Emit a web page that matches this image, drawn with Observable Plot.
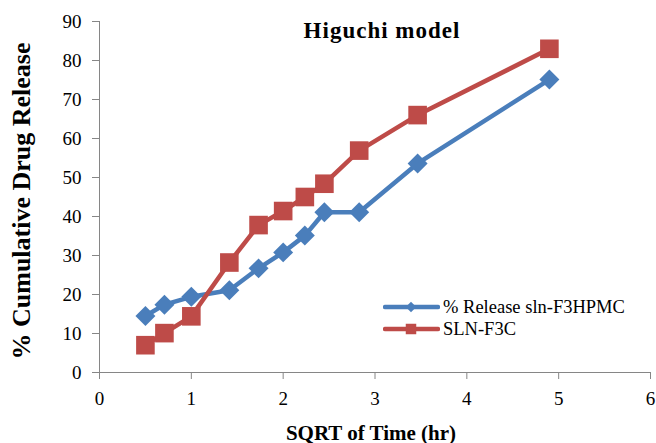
<!DOCTYPE html>
<html>
<head>
<meta charset="utf-8">
<script src="https://cdn.jsdelivr.net/npm/d3@7"></script>
<script src="https://cdn.jsdelivr.net/npm/@observablehq/plot@0.6"></script>
<style>
  html, body { margin: 0; padding: 0; background: #fff; }
  #wrap { position: relative; width: 656px; height: 443px; font-family: "Liberation Serif", "Times New Roman", serif; color: #000; overflow: hidden; }
  #wrap > svg { position: absolute; left: 0; top: 0; }
  .title { position: absolute; left: 382px; top: 30px; transform: translate(-50%, -50%); font-weight: bold; font-size: 23px; letter-spacing: 1px; line-height: 1; white-space: nowrap; }
  .xlabel { position: absolute; left: 371px; top: 433px; transform: translate(-50%, -50%); font-weight: bold; font-size: 21px; line-height: 1; white-space: nowrap; }
  .ylabel { position: absolute; left: 22px; top: 201px; transform: translate(-50%, -50%) rotate(-90deg); font-weight: bold; font-size: 26px; line-height: 1; white-space: nowrap; }
  .legend { position: absolute; left: 383px; top: 296px; font-size: 18.5px; line-height: 22px; }
  .legend .row { display: flex; align-items: center; height: 22px; white-space: nowrap; }
  #wrap .legend svg { position: static; display: block; margin-right: 3px; }
</style>
</head>
<body>
<div id="wrap"></div>
<script>
// ---- data ----
const sqrtTime = [0.5, 0.707, 1, 1.414, 1.732, 2, 2.236, 2.449, 2.828, 3.464, 4.899];
const releaseHPMC = [14.5, 17.4, 19.4, 21.1, 26.7, 30.8, 35.1, 41.1, 41.1, 53.6, 75.1];
const releaseF3C = [7.0, 10.1, 14.4, 28.2, 37.8, 41.4, 45.0, 48.4, 56.9, 66.0, 83.0];
const seriesNames = ["% Release sln-F3HPMC", "SLN-F3C"];
const xTicks = [0, 1, 2, 3, 4, 5, 6];
const yTicks = [0, 10, 20, 30, 40, 50, 60, 70, 80, 90];
const titleText = "Higuchi model";
const xLabelText = "SQRT of Time (hr)";
const yLabelText = "% Cumulative Drug Release";

const blue = "#4A7EBB";
const red = "#BE4B48";
const axisGray = "#868686";

const dataHPMC = sqrtTime.map((x, i) => ({x, y: releaseHPMC[i]}));
const dataF3C = sqrtTime.map((x, i) => ({x, y: releaseF3C[i]}));

const chart = Plot.plot({
  width: 656,
  height: 443,
  marginLeft: 99,
  marginRight: 6,
  marginTop: 21,
  marginBottom: 71,
  style: {fontFamily: "Liberation Serif, Times New Roman, serif", fontSize: "19px", background: "white", color: "black"},
  x: {domain: [0, 6]},
  y: {domain: [0, 90]},
  marks: [
    Plot.axisX({ticks: xTicks, tickSize: 7, tickPadding: 12, stroke: axisGray, fill: "black", label: null, fontSize: 19, tickFormat: d => String(d)}),
    Plot.axisY({ticks: yTicks, tickSize: 7, tickPadding: 11, stroke: axisGray, fill: "black", label: null, fontSize: 19, tickFormat: d => String(d)}),
    Plot.ruleX([0], {stroke: axisGray, strokeWidth: 1}),
    Plot.ruleY([0], {stroke: axisGray, strokeWidth: 1}),
    Plot.line(dataHPMC, {x: "x", y: "y", stroke: blue, strokeWidth: 4.5}),
    Plot.dot(dataHPMC, {x: "x", y: "y", symbol: "diamond2", r: 9, fill: blue, stroke: "none"}),
    Plot.line(dataF3C, {x: "x", y: "y", stroke: red, strokeWidth: 4.5}),
    Plot.dot(dataF3C, {x: "x", y: "y", symbol: "square", r: 10.5, fill: red, stroke: "none"})
  ]
});

const wrap = document.getElementById("wrap");
wrap.appendChild(chart);

function addDiv(cls, text) {
  const d = document.createElement("div");
  d.className = cls;
  d.textContent = text;
  wrap.appendChild(d);
  return d;
}
addDiv("title", titleText);
addDiv("xlabel", xLabelText);
addDiv("ylabel", yLabelText);

// legend
const legend = document.createElement("div");
legend.className = "legend";
const colors = [blue, red];
const symbols = [d3.symbolDiamond2, d3.symbolSquare];
const sizes = [70, 110];
seriesNames.forEach((name, i) => {
  const row = document.createElement("div");
  row.className = "row";
  const sw = d3.create("svg").attr("width", 57).attr("height", 22);
  sw.append("line").attr("x1", 2).attr("x2", 55).attr("y1", 11).attr("y2", 11)
    .attr("stroke", colors[i]).attr("stroke-width", 4.5).attr("stroke-linecap", "round");
  sw.append("path").attr("transform", "translate(28,11)")
    .attr("d", d3.symbol(symbols[i], sizes[i])()).attr("fill", colors[i]);
  row.appendChild(sw.node());
  const t = document.createElement("span");
  t.textContent = name;
  row.appendChild(t);
  legend.appendChild(row);
});
wrap.appendChild(legend);
</script>
</body>
</html>
